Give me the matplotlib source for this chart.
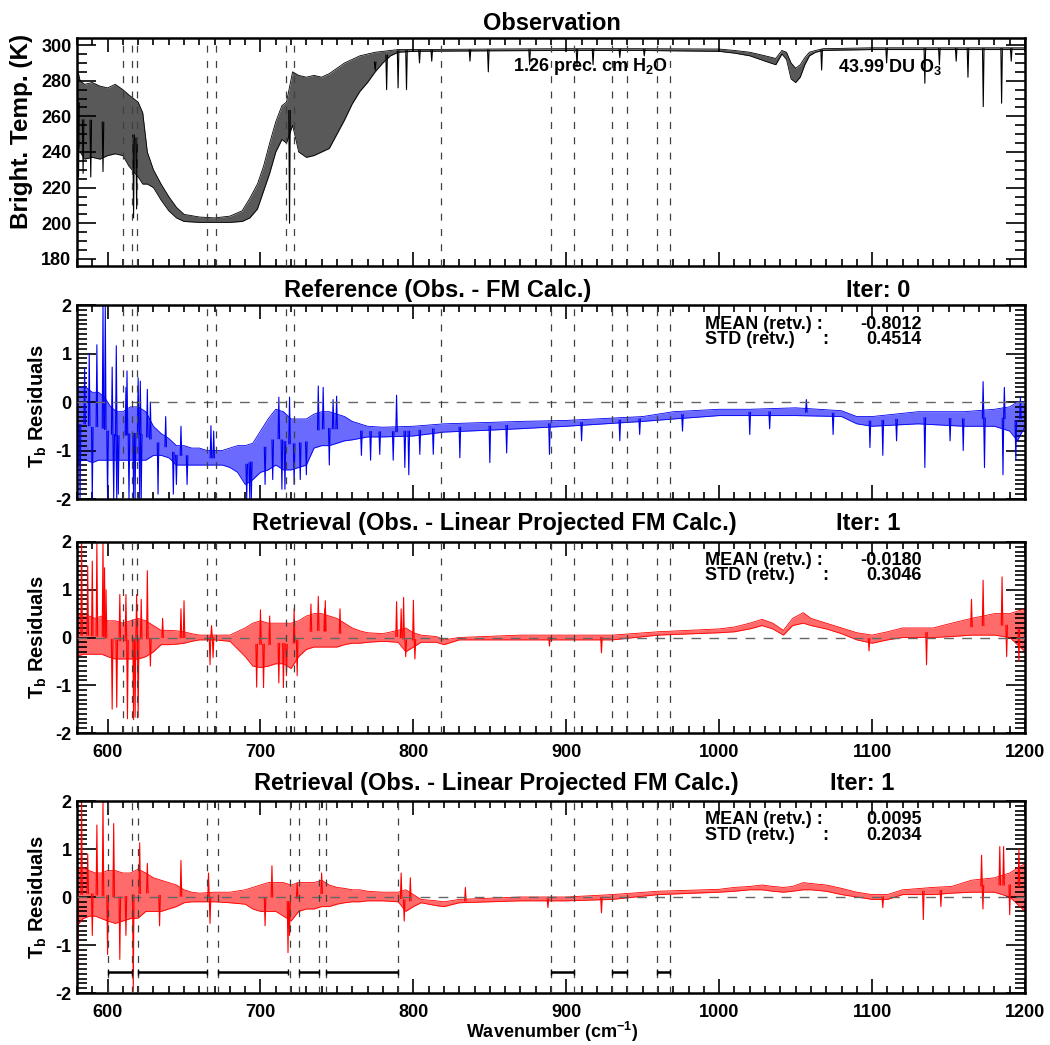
import numpy as np
import matplotlib
matplotlib.use('Agg')
import matplotlib.pyplot as plt
from matplotlib.ticker import MultipleLocator, FormatStrFormatter

plt.rcParams['font.family'] = ['Liberation Sans', 'DejaVu Sans']
plt.rcParams['font.weight'] = 'bold'
plt.rcParams['mathtext.fontset'] = 'custom'
plt.rcParams['mathtext.rm'] = 'Liberation Sans:bold'
plt.rcParams['mathtext.it'] = 'Liberation Sans:bold'
plt.rcParams['mathtext.bf'] = 'Liberation Sans:bold'
plt.rcParams['axes.unicode_minus'] = False
plt.rcParams['lines.scale_dashes'] = False

# ---- observed brightness temperature (K): band envelope + narrow lines ----
obs_wn = [580, 582, 585, 590, 595, 600, 605, 610, 614, 620, 623, 626, 630, 635, 640,
          645, 650, 660, 670, 680, 688, 693, 698, 702, 706, 710, 714, 717, 721, 725,
          730, 735, 740, 745, 750, 755, 760, 765, 770, 775, 780, 785, 790, 800, 850,
          900, 950, 1000, 1010, 1020, 1030, 1037, 1041, 1044, 1047, 1050, 1053, 1056, 1059, 1063,
          1068, 1100, 1150, 1200]
obs_hi = [288, 280, 278, 279, 277, 276, 278, 275, 272, 268, 262, 240, 230, 222, 215,
          209, 205, 203.5, 203, 204, 207, 214, 222, 232, 245, 257, 266, 268, 285, 283,
          282, 283, 282, 284, 287, 290, 292, 294, 295, 296, 296.5, 297, 297.5, 297.5, 297.8,
          298, 298, 297.8, 297, 296, 294, 292.5, 297, 296, 290, 287, 289, 293, 296, 297,
          298, 298.5, 298.5, 298.5]
obs_lo = [262, 240, 236, 237, 236, 238, 239, 238, 232, 226, 222, 222, 220, 213, 207,
          203, 201, 200.5, 200.5, 200.5, 201, 203, 208, 218, 228, 240, 247, 245, 255, 240,
          237, 238, 240, 242, 250, 258, 267, 274, 279, 285, 290, 294, 296, 296.5, 296.8,
          297, 297, 296.5, 295.5, 294, 291, 289, 295, 292, 281, 279, 282, 289, 294, 296,
          297, 297.5, 297.5, 297.5]
obs_line_wn = [581, 584, 589, 597, 617, 619, 719, 775, 782.5, 790, 795.5, 804, 812, 837, 849,
               876, 907, 917.5, 935, 951, 1067, 1109.5, 1134.5, 1144, 1155, 1162.7, 1172.7, 1184.7, 1191]
obs_line_val = [226, 228, 226, 229, 203, 208, 200, 286, 275, 276, 275, 290, 291, 291, 285,
                289, 288, 289, 293, 294, 286, 290, 278.6, 289, 291, 282, 265.5, 267.4, 291]

# ---- reference residuals (iter 0) ----
ref_wn = [580, 583, 586, 590, 594, 598, 602, 606, 610, 615, 620, 625, 630, 635, 640,
          645, 650, 655, 660, 665, 670, 675, 680, 685, 690, 695, 700, 705, 710, 715,
          720, 725, 730, 735, 740, 745, 750, 755, 760, 765, 770, 780, 800, 820, 850,
          870, 900, 950, 970, 1000, 1020, 1050, 1080, 1090, 1100, 1130, 1160, 1180, 1190, 1195,
          1200]
ref_hi = [0.3, 0.3, 0.3, 0.2, 0.2, 0.1, -0.1, -0.2, -0.2, -0.1, -0.1, -0.2, -0.5, -0.65, -0.75,
          -0.9, -0.9, -0.95, -0.95, -1.0, -1.0, -1.0, -0.95, -0.9, -0.9, -0.85, -0.6, -0.35, -0.15, -0.2,
          -0.35, -0.35, -0.35, -0.25, -0.2, -0.2, -0.25, -0.3, -0.4, -0.45, -0.5, -0.52, -0.5, -0.45, -0.42,
          -0.4, -0.38, -0.3, -0.2, -0.15, -0.15, -0.12, -0.18, -0.3, -0.3, -0.2, -0.2, -0.15, -0.1, 0.0,
          0.0]
ref_lo = [-1.3, -1.2, -1.2, -1.25, -1.2, -1.2, -1.2, -1.2, -1.2, -1.2, -1.2, -1.2, -1.1, -1.1, -1.15,
          -1.3, -1.3, -1.3, -1.3, -1.3, -1.3, -1.3, -1.35, -1.45, -1.7, -1.6, -1.45, -1.4, -1.3, -1.4,
          -1.4, -1.35, -1.3, -0.95, -0.9, -0.9, -0.85, -0.8, -0.78, -0.75, -0.72, -0.72, -0.7, -0.62, -0.58,
          -0.55, -0.5, -0.4, -0.35, -0.28, -0.28, -0.28, -0.3, -0.45, -0.5, -0.45, -0.5, -0.5, -0.6, -0.8,
          -0.5]
ref_line_wn = [582, 585, 588, 590, 593, 597, 598.5, 600, 603, 604, 605.7, 606, 607, 612, 612.7,
               614, 617, 618, 620, 621, 621.4, 622, 626, 628, 633, 638, 643, 645, 648,
               652, 667.6, 669.4, 691, 693, 694, 703, 708, 712, 714, 716, 719, 722, 726, 730,
               737.8, 741, 745, 747.5, 749.8, 766, 772, 778, 786.8, 789, 794.4, 797, 804.2, 813,
               830.4, 850, 861, 889, 910, 935, 948, 976, 1020, 1033, 1057, 1074.5, 1098.6, 1107,
               1116, 1134.5, 1151, 1159.6, 1172.6, 1173.5, 1185.6, 1186.5, 1194, 1197]
ref_line_val = [-2, 0.7, 1.0, -2, 1.18, 2.0, 2.0, -2, 0.72, -2, 1.16, -2, -1.9, 0.3, 0.64,
                -2, -2, -2, 0.5, -2, 0.43, -2, 0.26, 0.0, -1.9, -0.3, -1.9, -1.7, -0.5,
                -1.7, -0.49, -0.6, -2, -2, -2, -1.7, -1.6, 0.1, -1.8, -1.8, 0.1, -1.7, -1.6, -1.5,
                0.33, 0.3, -1.3, 0.05, 0.12, -1.1, -1.2, -1.08, -1.2, 0.14, -1.35, -1.5, -1.08, -1.08,
                -1.15, -1.25, -1.05, -1.08, -0.8, -0.8, -0.67, -0.6, -0.67, -0.55, 0.05, -0.67, -0.94, -1.1,
                -0.8, -1.35, -0.8, -1.0, 0.42, -1.35, -1.5, 0.3, -1.2, 0.1]

# ---- retrieval residuals (iter 1), shared grid for both retrieval panels ----
ret_wn = [580, 584, 588, 592, 596, 600, 605, 610, 615, 620, 625, 630, 635, 640, 645,
          650, 655, 660, 670, 680, 690, 695, 700, 705, 710, 715, 720, 725, 730, 735,
          740, 745, 750, 755, 760, 765, 770, 780, 790, 795, 800, 805, 815, 820, 830,
          870, 900, 930, 960, 1000, 1010, 1020, 1028, 1035, 1042, 1048, 1055, 1060, 1070, 1080,
          1090, 1100, 1110, 1120, 1140, 1152, 1165, 1180, 1190, 1200]
ret1_hi = [0.5, 0.45, 0.45, 0.4, 0.45, 0.35, 0.35, 0.3, 0.35, 0.4, 0.35, 0.25, 0.15, 0.15, 0.14,
           0.12, 0.08, 0.05, 0.05, 0.05, 0.2, 0.3, 0.35, 0.3, 0.3, 0.3, 0.3, 0.35, 0.45, 0.5,
           0.5, 0.45, 0.4, 0.3, 0.2, 0.14, 0.1, 0.08, 0.15, 0.2, 0.1, 0.05, 0.02, -0.05, 0.0,
           0.05, 0.05, 0.05, 0.12, 0.18, 0.22, 0.3, 0.38, 0.3, 0.15, 0.4, 0.52, 0.4, 0.3, 0.2,
           0.1, 0.05, 0.12, 0.2, 0.2, 0.3, 0.4, 0.5, 0.5, 0.6]
ret1_lo = [-0.4, -0.35, -0.35, -0.35, -0.35, -0.4, -0.45, -0.45, -0.45, -0.45, -0.4, -0.3, -0.15, -0.15, -0.14,
           -0.12, -0.08, -0.05, -0.05, -0.08, -0.4, -0.6, -0.63, -0.6, -0.55, -0.55, -0.65, -0.4, -0.25, -0.2,
           -0.2, -0.2, -0.2, -0.15, -0.12, -0.12, -0.1, -0.08, -0.1, -0.3, -0.2, -0.1, -0.1, -0.15, -0.05,
           -0.05, -0.05, -0.05, 0.05, 0.1, 0.12, 0.18, 0.25, 0.18, 0.05, 0.25, 0.3, 0.25, 0.18, 0.08,
           -0.05, -0.12, -0.05, 0.0, 0.0, 0.02, 0.05, 0.05, 0.0, -0.3]
ret1_line_wn = [583, 587, 590, 593, 597, 598, 599, 603, 606, 608, 612, 613, 617, 618, 619,
                620, 622, 626, 628, 636, 648, 650, 667, 668, 669, 697.5, 700, 702, 706, 712,
                715, 717, 722, 724, 733, 737.8, 742, 742.4, 752, 789, 792, 793.6, 795, 800, 801,
                889, 923, 1098, 1135.6, 1165, 1172.6, 1185, 1188, 1196]
ret1_line_val = [2.0, 1.5, 1.6, 2.0, 2.0, 1.46, 1.0, -1.5, -1.46, 0.9, 0.9, -1.7, -1.72, -1.67, 0.9,
                 -1.67, 0.8, 1.4, -0.6, 0.4, 0.6, 0.77, -0.57, 0.25, -0.42, -1.04, 0.58, -1.05, 0.45, -0.95,
                 -1.05, -0.8, 0.6, -0.8, 0.7, 0.86, 0.6, 0.77, 0.6, 0.75, 0.6, 0.84, -0.4, 0.78, -0.45,
                 -0.18, -0.32, -0.28, -0.57, 0.8, 1.2, 1.27, -0.4, -0.5]

ret2_hi = [0.6, 0.6, 0.55, 0.5, 0.5, 0.55, 0.55, 0.5, 0.5, 0.58, 0.5, 0.4, 0.35, 0.3, 0.25,
           0.15, 0.1, 0.08, 0.1, 0.1, 0.15, 0.2, 0.25, 0.3, 0.3, 0.3, 0.25, 0.3, 0.3, 0.3,
           0.35, 0.25, 0.2, 0.18, 0.15, 0.15, 0.12, 0.1, 0.1, 0.15, 0.05, -0.05, -0.08, -0.1, -0.05,
           0.0, 0.0, 0.05, 0.12, 0.16, 0.2, 0.22, 0.25, 0.22, 0.2, 0.22, 0.3, 0.28, 0.25, 0.18,
           0.1, 0.05, 0.05, 0.15, 0.2, 0.22, 0.35, 0.4, 0.5, 0.7]
ret2_lo = [-0.6, -0.45, -0.4, -0.4, -0.45, -0.5, -0.55, -0.5, -0.45, -0.44, -0.3, -0.3, -0.3, -0.25, -0.2,
           -0.12, -0.1, -0.1, -0.1, -0.12, -0.15, -0.25, -0.3, -0.3, -0.3, -0.4, -0.5, -0.3, -0.25, -0.25,
           -0.2, -0.2, -0.15, -0.12, -0.1, -0.1, -0.08, -0.08, -0.1, -0.3, -0.2, -0.12, -0.18, -0.2, -0.12,
           -0.08, -0.08, -0.05, 0.05, 0.1, 0.12, 0.15, 0.15, 0.12, 0.1, 0.12, 0.15, 0.15, 0.12, 0.05,
           0.0, -0.05, -0.05, 0.05, 0.05, 0.08, 0.1, 0.1, 0.0, -0.3]
ret2_line_wn = [580.5, 583, 587, 590, 593, 597, 600, 604, 608, 612, 616.8, 621, 626, 634, 648,
                666, 667, 703, 707.5, 718, 719, 724, 740, 792, 794, 798, 834, 888, 923, 1107,
                1133.5, 1145, 1171.6, 1172.5, 1183.5, 1186, 1190, 1196]
ret2_line_val = [-1.5, 2.0, 0.9, -0.8, 1.5, 2.0, -1.2, 1.53, -1.3, -0.8, -1.97, 1.13, 0.7, -0.6, 0.76,
                 0.5, -0.55, -0.6, 0.65, -1.16, -0.8, 0.3, 0.5, 0.5, -0.5, 0.4, 0.2, -0.22, -0.33, -0.22,
                 -0.47, -0.2, 0.87, -0.25, 1.05, 1.05, -0.37, 1.0]

# microwindow edges
window_edges = [610, 616, 619, 665, 671, 717, 722, 818, 890, 905, 930, 940, 959, 968]
final_edges = [600, 616, 620, 665, 672, 719, 725, 738, 743, 790, 890, 905, 930, 940, 959, 968]
win_start = [600, 620, 672, 725, 743, 890, 930, 959]
win_end = [616, 665, 718, 738, 790, 905, 940, 968]
win_level = -1.56

# statistics printed on each residual panel
stat_mean = ['-0.8012', '-0.0180', '0.0095']
stat_std = ['0.4514', '0.3046', '0.2034']

W, H = 1050, 1045


def draw_spectrum(ax, wn, hi, lo, line_wn, line_val, color, fill):
    ax.fill_between(wn, lo, hi, color=fill, lw=0, zorder=1)
    ax.plot(wn, hi, color=color, lw=0.6, zorder=2)
    ax.plot(wn, lo, color=color, lw=0.6, zorder=2)
    mid = (np.array(hi) + np.array(lo)) / 2.0
    base = np.interp(line_wn, wn, mid)
    for x, b, v in zip(line_wn, base, line_val):
        ax.plot([x - 0.5, x, x + 0.5], [b, v, b], color=color, lw=0.8, zorder=2)


def style_axis(ax, ylim, ymajor, yminor, xlabels):
    ax.set_xlim(580, 1200)
    ax.set_ylim(*ylim)
    ax.xaxis.set_major_locator(MultipleLocator(100))
    ax.xaxis.set_minor_locator(MultipleLocator(10))
    ax.yaxis.set_major_locator(MultipleLocator(ymajor))
    ax.yaxis.set_minor_locator(MultipleLocator(yminor))
    ax.yaxis.set_major_formatter(FormatStrFormatter('%d'))
    ax.tick_params(which='both', direction='in', top=True, right=True, width=1.2,
                   labelsize=13, labelbottom=xlabels)
    ax.tick_params(axis='x', which='major', length=10, pad=8)
    ax.tick_params(axis='x', which='minor', length=5)
    ax.tick_params(axis='y', which='major', length=14, pad=4)
    ax.tick_params(axis='y', which='minor', length=7)
    for s in ax.spines.values():
        s.set_linewidth(1.8)


def dashed_edges(ax, edges):
    for x in edges:
        ax.axvline(x, color='0.25', lw=0.9, dashes=(5, 6), zorder=3)


def stats_text(ax, mean, std):
    kw = dict(transform=ax.transAxes, fontsize=13, fontweight='bold', va='center')
    ax.text(0.662, 0.902, 'MEAN (retv.) :', ha='left', **kw)
    ax.text(0.662, 0.822, 'STD (retv.)', ha='left', **kw)
    ax.text(0.786, 0.822, ':', ha='left', **kw)
    ax.text(0.891, 0.902, mean, ha='right', **kw)
    ax.text(0.891, 0.822, std, ha='right', **kw)


def fig_text(fig, px, py, s, **kw):
    fig.text(px / W, 1 - py / H, s, **kw)


def main():
    fig = plt.figure(figsize=(W / 100, H / 100), dpi=100)
    left, width = 77 / W, 948 / W
    boxes = [(38, 266), (305, 499), (542, 733), (801, 993)]
    axes = [fig.add_axes([left, 1 - b / H, width, (b - t) / H]) for t, b in boxes]
    ax1, ax2, ax3, ax4 = axes

    # observation
    draw_spectrum(ax1, obs_wn, obs_hi, obs_lo, obs_line_wn, obs_line_val, 'k', '0.35')
    dashed_edges(ax1, window_edges)
    style_axis(ax1, (176, 304), 20, 5, False)
    ax1.text(0.46, 0.873, r'1.26 prec. cm H$_{\mathrm{2}}$O', transform=ax1.transAxes,
             fontsize=13, va='center')
    ax1.text(0.803, 0.873, r'43.99 DU O$_{\mathrm{3}}$', transform=ax1.transAxes,
             fontsize=13, va='center')

    # residual panels
    panels = [
        (ax2, ref_hi, ref_lo, ref_wn, ref_line_wn, ref_line_val, '#0000f0', '#6a6aff'),
        (ax3, ret1_hi, ret1_lo, ret_wn, ret1_line_wn, ret1_line_val, '#ff0000', '#ff6a6a'),
        (ax4, ret2_hi, ret2_lo, ret_wn, ret2_line_wn, ret2_line_val, '#ff0000', '#ff6a6a'),
    ]
    for i, (ax, hi, lo, wn, lwn, lval, col, fill) in enumerate(panels):
        draw_spectrum(ax, wn, hi, lo, lwn, lval, col, fill)
        ax.axhline(0, color='0.4', lw=1.0, dashes=(7, 6), zorder=3)
        style_axis(ax, (-2, 2), 1, 0.1, ax is not ax2)
        stats_text(ax, stat_mean[i], stat_std[i])

    dashed_edges(ax2, window_edges)
    dashed_edges(ax3, window_edges)
    dashed_edges(ax4, final_edges)

    # retrieval microwindows
    ax4.hlines([win_level] * len(win_start), win_start, win_end, color='k', lw=1.8, zorder=4)
    ax4.vlines(win_start + win_end, win_level - 0.07, win_level + 0.07, color='k', lw=1.0, zorder=4)

    # titles and labels
    tkw = dict(fontsize=17, fontweight='bold', ha='center', va='baseline')
    fig_text(fig, 552, 30, 'Observation', **tkw)
    fig_text(fig, 438, 297, 'Reference (Obs. - FM Calc.)', **tkw)
    fig_text(fig, 878, 297, 'Iter: 0', **tkw)
    fig_text(fig, 494, 530, 'Retrieval (Obs. - Linear Projected FM Calc.)', **tkw)
    fig_text(fig, 868, 530, 'Iter: 1', **tkw)
    fig_text(fig, 496, 790, 'Retrieval (Obs. - Linear Projected FM Calc.)', **tkw)
    fig_text(fig, 862, 790, 'Iter: 1', **tkw)

    fig_text(fig, 22, 131, 'Bright. Temp. (K)', fontsize=17.5, fontweight='bold',
             ha='center', va='center', rotation=90)
    for cy in (406, 637, 897):
        fig_text(fig, 38, cy, r'T$_{\mathrm{b}}$ Residuals', fontsize=14.5, fontweight='bold',
                 ha='center', va='center', rotation=90)
    fig_text(fig, 552, 1038, r'Wavenumber (cm$^{\mathrm{-1}}$)', fontsize=13,
             fontweight='bold', ha='center', va='baseline')

    fig.savefig('out.png', dpi=100)


if __name__ == '__main__':
    main()
